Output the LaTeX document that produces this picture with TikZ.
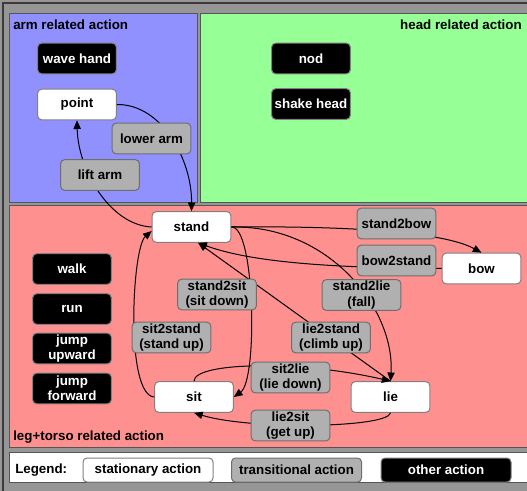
\documentclass[tikz,border=0pt]{standalone}
\usepackage{fontspec}
\setmainfont{Liberation Sans}
\usetikzlibrary{arrows.meta}
\definecolor{framegray}{RGB}{150,150,150}
\definecolor{framedark}{RGB}{60,60,60}
\definecolor{panelline}{RGB}{85,85,85}
\definecolor{armblue}{RGB}{144,144,255}
\definecolor{headgreen}{RGB}{150,255,150}
\definecolor{legred}{RGB}{255,144,144}
\definecolor{transgray}{RGB}{176,176,176}
\definecolor{transline}{RGB}{110,110,110}
\definecolor{boxline}{RGB}{128,128,128}
\begin{document}
\begin{tikzpicture}[x=0.75pt,y=-0.75pt,>={Triangle[length=6.5pt,width=5.5pt]},
	every node/.style={font=\bfseries\fontsize{10}{11.5}\selectfont},
	state/.style={draw=boxline,fill=white,rounded corners=3pt,line width=0.75pt,
		minimum width=59pt,minimum height=23pt,align=center,inner sep=1pt},
	trans/.style={state,fill=transgray,draw=transline},
	other/.style={state,fill=black,text=white},
	keybox/.style={minimum width=97.5pt,minimum height=18pt},
	panel/.style={draw=panelline,line width=0.75pt},
	title/.style={inner sep=0pt},
	link/.style={->,line width=0.75pt}]
	\clip (0,0) rectangle (527,491);
	\fill[framegray] (0,0) rectangle (527,491);
	\draw[framedark,line width=1pt] (3,3) rectangle (540,500);
	\draw[panel,fill=armblue] (9,14) rectangle (197,203);
	\draw[panel,fill=headgreen] (200,14) rectangle (540,203);
	\draw[panel,fill=legred] (9,206) rectangle (540,447);
	\draw[panel,fill=white] (9,452) rectangle (540,482);
	\node[title,anchor=west] (armtitle) at (13,25) {arm related action};
	\node[title,anchor=east] (headtitle) at (522,25) {head related action};
	\node[title,anchor=west] (legtitle) at (13,437) {leg+torso related action};
	\node[other] (wavehand) at (77,58.5) {wave hand};
	\node[state] (point) at (77,104.5) {point};
	\node[other] (nod) at (311,58.5) {nod};
	\node[other] (shakehead) at (311,104) {shake head};
	\node[state] (stand) at (191.5,227) {stand};
	\node[state] (bow) at (481.5,268.5) {bow};
	\node[state] (sit) at (194,397) {sit};
	\node[state] (lie) at (390.5,397) {lie};
	\node[other] (walk) at (72,269) {walk};
	\node[other] (run) at (72,309) {run};
	\node[other] (jumpup) at (72,348.5) {jump\\upward};
	\node[other] (jumpfwd) at (72,388.5) {jump\\forward};
	\draw[link] (point.east) .. controls (162,104) and (192,160) .. (stand.north);
	\draw[link] (stand.west) .. controls (110,225) and (78,170) .. (point.south);
	\draw[link] (stand.east) .. controls (330,226) and (440,230) .. (bow.north);
	\draw[link] (bow.west) .. controls (330,268) and (250,262) .. ([xshift=5pt]stand.south);
	\draw[link] (lie.north) -- ([xshift=5pt]stand.south);
	\draw[link] (stand.east) .. controls (330,225) and (395,310) .. (lie.north);
	\draw[link] (stand.east) .. controls (255,225) and (258,380) .. (sit.east);
	\draw[link] (sit.west) .. controls (125,395) and (132,248) .. ([yshift=-3pt]stand.west);
	\draw[link] (sit.north) .. controls (194,362) and (300,360) .. (lie.north);
	\draw[link] (lie.south) .. controls (388,428) and (250,430) .. (sit.south);
	\node[trans] (lowerarm) at (151.5,138.5) {lower arm};
	\node[trans] (liftarm) at (100,175) {lift arm};
	\node[trans] (stand2bow) at (396.5,223.5) {stand2bow};
	\node[trans] (bow2stand) at (396.5,260.5) {bow2stand};
	\node[trans] (stand2sit) at (217,294.5) {stand2sit\\(sit down)};
	\node[trans] (sit2stand) at (171.5,337.5) {sit2stand\\(stand up)};
	\node[trans] (stand2lie) at (361.5,295) {stand2lie\\(fall)};
	\node[trans] (lie2stand) at (331,337.5) {lie2stand\\(climb up)};
	\node[trans] (sit2lie) at (290.5,377.5) {sit2lie\\(lie down)};
	\node[trans] (lie2sit) at (290.5,425.5) {lie2sit\\(get up)};
	\node[title,anchor=west] (legend) at (15,470) {Legend:};
	\node[state,keybox] (keystat) at (148,470) {stationary action};
	\node[trans,keybox] (keytrans) at (296.5,470) {transitional action};
	\node[other,keybox] (keyother) at (446,470) {other action};
\end{tikzpicture}
\end{document}
